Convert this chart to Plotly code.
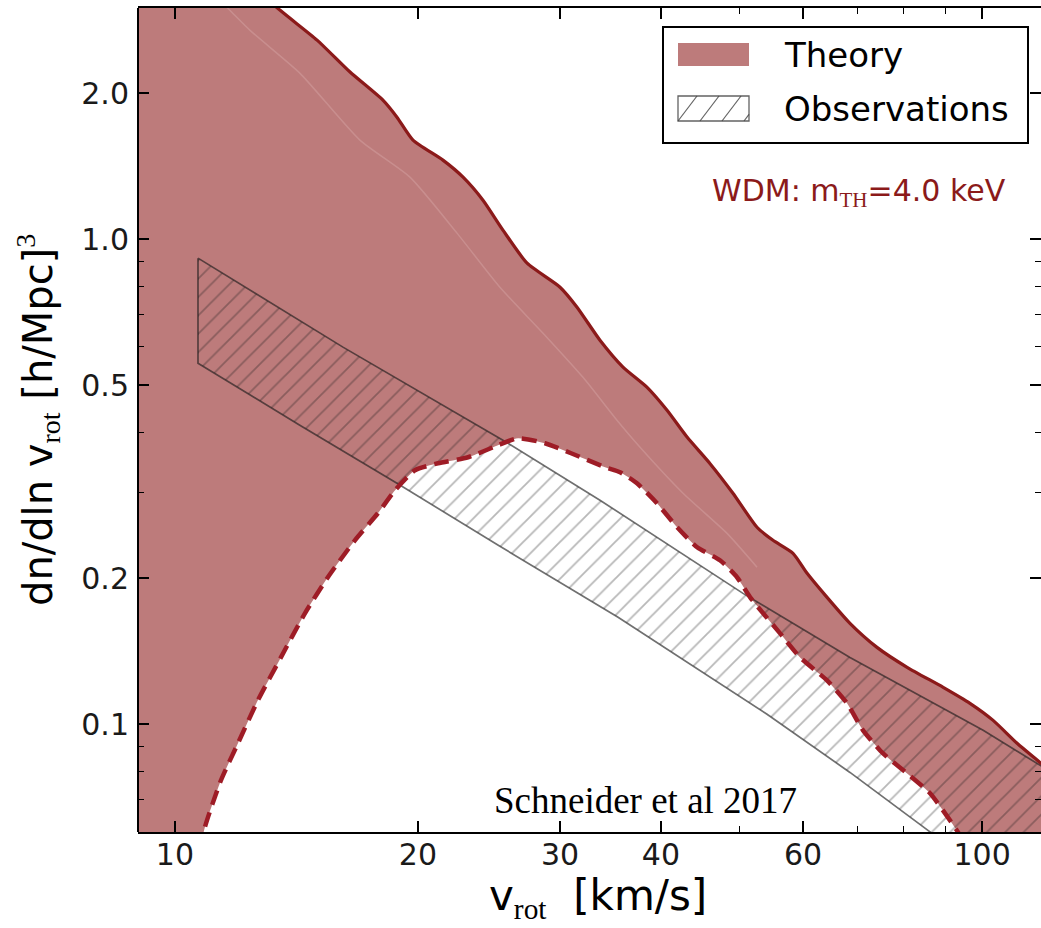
import numpy as np
import plotly.graph_objects as go

# ---- data -----------------------------------------------------------------
# Theory band (WDM, m_TH = 4.0 keV): upper envelope (solid)
upper_v = [8.8, 11.0, 13.49, 15.0, 16.48, 18.10, 18.84, 19.72, 21.48, 22.75, 24.08,
           25.49, 27.31, 30.0, 31.49, 33.62, 35.9, 38.46, 40.71, 43.1, 46.0, 49.13,
           52.62, 55.08, 58.31, 60.7, 64.26, 68.6, 74.1, 80.75, 89.5, 96.6, 103.2,
           110.5, 118.3, 124.9]
upper_n = [5.6, 4.0, 2.966, 2.572, 2.21, 1.934, 1.784, 1.600, 1.455, 1.342, 1.203,
           1.044, 0.892, 0.796, 0.724, 0.619, 0.545, 0.495, 0.444, 0.391, 0.345, 0.2995,
           0.2548, 0.2395, 0.2252, 0.2048, 0.1827, 0.1615, 0.1441, 0.1311, 0.1192, 0.1105,
           0.1019, 0.0914, 0.0831, 0.0769]

# Theory band: lower envelope (dashed)
lower_v = [8.8, 10.0, 10.53, 10.89, 11.4, 11.97, 12.67, 13.53, 14.49, 15.47, 16.71,
           17.84, 18.74, 19.83, 21.18, 23.08, 25.13, 26.61, 28.74, 30.96, 34.11, 35.6,
           37.36, 39.56, 41.9, 44.36, 47.34, 49.7, 51.6, 53.55, 56.2, 59.5, 64.26, 68.03,
           71.2, 75.4, 80.75, 86.2, 91.26, 93.4, 98.0, 124.9]
lower_n = [0.022, 0.038, 0.0477, 0.0613, 0.0766, 0.0914, 0.1121, 0.1374, 0.1694, 0.2010,
           0.2395, 0.2723, 0.3038, 0.3340, 0.3452, 0.3552, 0.376, 0.3888, 0.3797, 0.362,
           0.3388, 0.3308, 0.3140, 0.2855, 0.2548, 0.2317, 0.2179, 0.2010, 0.1827, 0.1694,
           0.1540, 0.1374, 0.1232, 0.1105, 0.0972, 0.0871, 0.0792, 0.0721, 0.0634, 0.0599,
           0.0524, 0.0295]

# Theory: central curve
mid_v = [11.21, 12.38, 14.28, 16.95, 19.55, 22.36, 25.27, 28.58, 32.03, 35.29, 37.69,
         42.61, 48.31, 52.62]
mid_n = [3.185, 2.697, 2.199, 1.600, 1.342, 1.029, 0.796, 0.640, 0.519, 0.4234, 0.3725,
         0.2995, 0.2475, 0.2108]

# Observed velocity function band
obs_upper_v = [10.68, 16.15, 25.49, 33.62, 50.56, 68.6, 100.3, 117.0, 124.9]
obs_upper_n = [0.9138, 0.599, 0.3851, 0.2897, 0.1862, 0.1374, 0.0972, 0.0831, 0.0777]
obs_lower_v = [10.68, 14.28, 18.84, 25.27, 35.4, 54.15, 68.6, 85.45, 118.3, 124.9]
obs_lower_n = [0.555, 0.4136, 0.314, 0.2328, 0.1662, 0.1049, 0.0796, 0.0607, 0.040, 0.0367]

# Axis ticks
x_major = [10, 20, 30, 40, 60, 100]
x_major_text = ["10", "20", "30", "40", "60", "100"]
x_minor = [9, 50, 70, 80, 90]
y_major = [0.1, 0.2, 0.5, 1.0, 2.0]
y_major_text = ["0.1", "0.2", "0.5", "1.0", "2.0"]
y_minor = [0.07, 0.08, 0.09, 0.3, 0.4, 0.6, 0.7, 0.8, 0.9, 3.0]

# ---- styling --------------------------------------------------------------
W, H = 1041, 928
ML, MR, MT, MB = 138, 0, 8, 96
PW, PH = W - ML - MR, H - MT - MB

THEORY_FILL = "rgb(189,123,123)"
DARK_RED = "rgb(139,26,26)"
DASH_RED = "rgb(158,28,38)"
HATCH = "rgba(25,25,25,0.62)"
SERIF = "Liberation Serif"
SANS = "DejaVu Sans"


def pxx(x):
    return (x - ML) / PW


def pxy(y):
    return (H - MB - y) / PH


fig = go.Figure()

# Theory band as a closed polygon: upper edge forward, lower edge back
fig.add_trace(go.Scatter(
    x=list(upper_v) + list(lower_v[::-1]),
    y=list(upper_n) + list(lower_n[::-1]),
    fill="toself", fillcolor=THEORY_FILL, mode="lines",
    line=dict(width=0, shape="spline", smoothing=0.6),
    hoverinfo="skip", showlegend=False,
))

# Observations: hatched band
fig.add_trace(go.Scatter(
    x=list(obs_upper_v) + list(obs_lower_v[::-1]) + [obs_upper_v[0]],
    y=list(obs_upper_n) + list(obs_lower_n[::-1]) + [obs_upper_n[0]],
    fill="toself", fillcolor="rgba(0,0,0,0)", mode="lines",
    fillpattern=dict(shape="/", size=13, solidity=0.14, fgcolor=HATCH,
                     bgcolor="rgba(0,0,0,0)", fillmode="overlay"),
    line=dict(color=HATCH, width=1.7), hoverinfo="skip", showlegend=False,
))

# Central theory curve (faint)
fig.add_trace(go.Scatter(
    x=mid_v, y=mid_n, mode="lines",
    line=dict(color="rgba(255,235,235,0.18)", width=1.5, shape="spline", smoothing=0.6),
    hoverinfo="skip", showlegend=False,
))

# Envelope lines
fig.add_trace(go.Scatter(
    x=upper_v, y=upper_n, mode="lines",
    line=dict(color=DARK_RED, width=3.2, shape="spline", smoothing=0.6),
    hoverinfo="skip", showlegend=False,
))
fig.add_trace(go.Scatter(
    x=lower_v, y=lower_n, mode="lines",
    line=dict(color=DASH_RED, width=4.5, dash="15px,8px", shape="spline", smoothing=0.6),
    hoverinfo="skip", showlegend=False,
))

tick_common = dict(
    type="log", showgrid=False, zeroline=False, mirror="ticks",
    ticks="inside", ticklen=11, tickwidth=1.5, tickcolor="black",
    tickfont=dict(family=SANS, size=30, color="#1a1a1a"),
)

fig.update_xaxes(
    **tick_common,
    showline=True, linecolor="black", linewidth=2,
    range=[np.log10(9.0), np.log10(118.3)],
    tickmode="array", tickvals=x_major, ticktext=x_major_text,
    ticklabelstandoff=-5,
    minor=dict(tickmode="array", tickvals=x_minor, ticks="inside", ticklen=6,
               tickwidth=1.2, tickcolor="black", showgrid=False),
)
# the right-hand spine sits just past the canvas: only its ticks are shown
fig.update_yaxes(
    **tick_common,
    showline=False,
    range=[np.log10(0.06), np.log10(2.995)],
    tickmode="array", tickvals=y_major, ticktext=y_major_text,
    ticklabelstandoff=8,
    minor=dict(tickmode="array", tickvals=y_minor, ticks="inside", ticklen=6,
               tickwidth=1.2, tickcolor="black", showgrid=False),
)

shapes = [
    # left spine
    dict(type="line", xref="paper", yref="paper", x0=0, x1=0, y0=0, y1=1,
         line=dict(color="black", width=2), layer="above"),
    # legend frame and keys
    dict(type="rect", xref="paper", yref="paper",
         x0=pxx(663), x1=pxx(1028), y0=pxy(143), y1=pxy(27),
         line=dict(color="black", width=2), fillcolor="white"),
    dict(type="rect", xref="paper", yref="paper",
         x0=pxx(678), x1=pxx(749), y0=pxy(66), y1=pxy(43),
         line=dict(width=0), fillcolor=THEORY_FILL),
    dict(type="rect", xref="paper", yref="paper",
         x0=pxx(678), x1=pxx(749), y0=pxy(121), y1=pxy(96),
         line=dict(color="rgba(70,70,70,0.85)", width=1.3), fillcolor="rgba(0,0,0,0)"),
]
for x0 in (678, 700, 722):
    shapes.append(dict(type="line", xref="paper", yref="paper",
                       x0=pxx(x0), y0=pxy(121), x1=pxx(x0 + 19), y1=pxy(96),
                       line=dict(color="rgba(70,70,70,0.85)", width=1.2)))
shapes.append(dict(type="line", xref="paper", yref="paper",
                   x0=pxx(744), y0=pxy(121), x1=pxx(749), y1=pxy(114.4),
                   line=dict(color="rgba(70,70,70,0.85)", width=1.2)))

annotations = [
    dict(text="Theory", x=pxx(782), y=pxy(55), xanchor="left", yanchor="middle",
         font=dict(family=SANS, size=34, color="black")),
    dict(text="Observations", x=pxx(782), y=pxy(109), xanchor="left", yanchor="middle",
         font=dict(family=SANS, size=34, color="black")),
    dict(text=f"WDM: m<sub><span style='font-family:{SERIF}'>TH</span></sub>=4.0 keV",
         x=pxx(1008), y=pxy(192), xanchor="right", yanchor="middle",
         font=dict(family=SANS, size=30, color=DARK_RED)),
    dict(text="Schneider et al 2017", x=pxx(645), y=pxy(800),
         xanchor="center", yanchor="middle",
         font=dict(family=SERIF, size=37, color="black")),
    # axis titles
    dict(text=f"v<sub><span style='font-family:{SERIF}'>rot</span></sub>  [km/s]",
         x=pxx(487), y=pxy(927), xanchor="left", yanchor="bottom",
         font=dict(family=SANS, size=42, color="black")),
    dict(text=(f"dn/dln v<sub><span style='font-family:{SERIF}'>rot</span></sub>"
               f" [h/Mpc]<sup><span style='font-family:{SERIF}'>3</span></sup>"),
         x=pxx(38), y=pxy(420), xanchor="center", yanchor="middle", textangle=-90,
         font=dict(family=SANS, size=40, color="black")),
]
for a in annotations:
    a.update(xref="paper", yref="paper", showarrow=False)

fig.update_layout(
    width=W, height=H,
    margin=dict(l=ML, r=MR, t=MT, b=MB, pad=0),
    paper_bgcolor="white", plot_bgcolor="white",
    showlegend=False, shapes=shapes, annotations=annotations,
)

fig.write_html("out.html")
